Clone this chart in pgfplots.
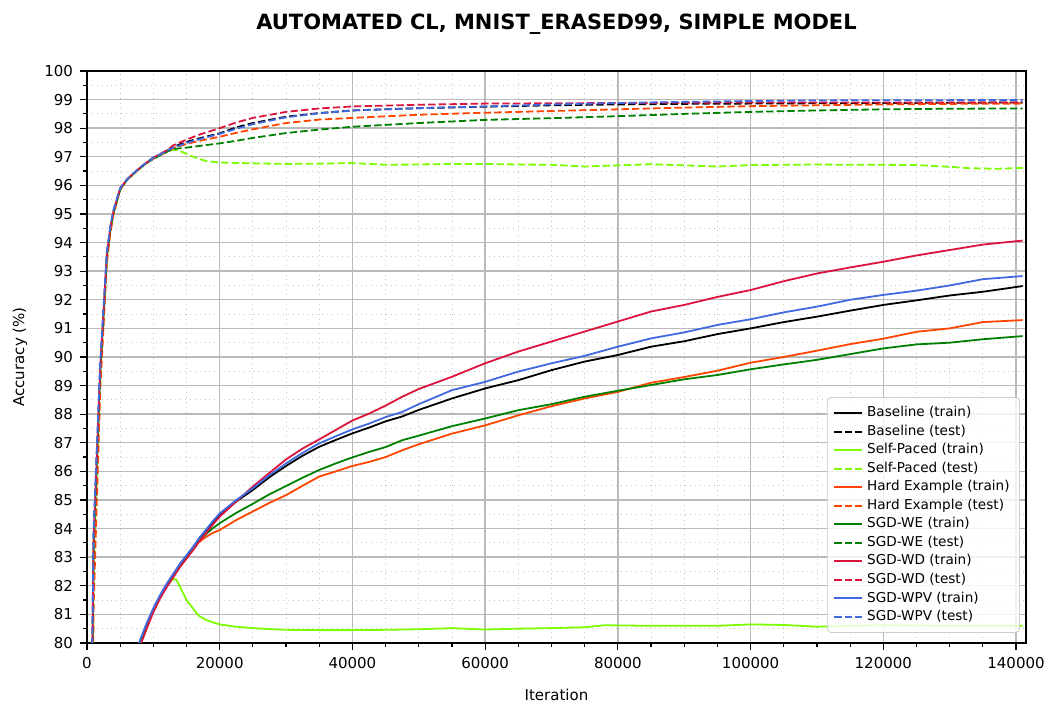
\documentclass[border=0pt]{standalone}
\usepackage{fontspec}
\setmainfont{DejaVu Sans}
\usepackage{pgfplots}
\pgfplotsset{compat=1.18}
\usetikzlibrary{calc}
\definecolor{lawngreen}{RGB}{124,252,0}
\definecolor{orangered}{RGB}{255,69,0}
\definecolor{mplgreen}{RGB}{0,128,0}
\definecolor{crimson}{RGB}{220,20,60}
\definecolor{royalblue}{RGB}{65,105,225}
\tikzset{trainline/.style={solid, line width=0.9pt},
         testline/.style={line width=0.9pt, dash pattern=on 3.7pt off 1.6pt}}
\begin{document}
\begin{tikzpicture}
\begin{axis}[
  scale only axis, width=469.5pt, height=286pt,
  xmin=0, xmax=141500, ymin=80, ymax=100,
  xtick={0,20000,40000,60000,80000,100000,120000,140000}, minor x tick num=3,
  ytick={80,81,...,100}, minor y tick num=1,
  scaled ticks=false,
  grid=both,
  major grid style={black!27, line width=0.7pt},
  minor grid style={black!22, line width=0.45pt, dotted},
  axis line style={black, line width=1.1pt},
  tick style={black, line width=0.6pt},
  major tick length=3.5pt, minor tick length=2pt,
  tick align=outside, tick pos=left,
  tick label style={font=\fontsize{7.5}{9}\selectfont},
  label style={font=\fontsize{7.5}{9}\selectfont},
  xlabel={Iteration}, ylabel={Accuracy (\%)},
  xlabel style={at={(axis description cs:0.5,-0.0997)}, anchor=base},
  ylabel style={at={(axis description cs:-0.0714,0.5)}, anchor=center},
  title={AUTOMATED CL, MNIST\_ERASED99, SIMPLE MODEL},
  every axis title shift=0pt,
  title style={font=\fontsize{10.5}{12}\selectfont\bfseries, at={(axis description cs:0.5,1.0717)}, anchor=base},
  legend style={at={(0.9936,0.0175)}, anchor=south east, font=\fontsize{6.8}{8}\selectfont,
    draw=black!20, fill=white, fill opacity=0.8, text opacity=1, rounded corners=2pt,
    row sep=-1.4pt, inner xsep=3pt, inner ysep=2.5pt},
  legend cell align=left,
  legend image code/.code={\draw[#1] (0pt,0pt) -- (14pt,0pt);},
  /pgf/number format/fixed,
  /pgf/number format/precision=0,
  /pgf/number format/1000 sep={},
  /pgf/number format/assume math mode=true,
]
\coordinate (bl) at (rel axis cs:0,0);
\coordinate (tr) at (rel axis cs:1,1);
% Baseline train
\addplot[black, trainline] table[row sep=\\] {x y\\
6000 78.5\\ 7000 79.3\\ 8000 80.0\\ 9000 80.6\\ 10000 81.15\\ 11000 81.6\\ 12000 82.0\\ 13000 82.35\\ 14000 82.7\\ 15000 83.0\\ 16000 83.3\\
17000 83.68\\ 18000 83.95\\ 19000 84.22\\ 20000 84.48\\ 22500 84.95\\ 25000 85.35\\ 27500 85.8\\ 30000 86.19\\ 32500 86.55\\ 35000 86.86\\ 37500 87.1\\ 40000 87.33\\ 42500 87.53\\ 45000 87.75\\ 47500 87.92\\ 50000 88.15\\ 55000 88.55\\ 60000 88.9\\ 65000 89.19\\ 70000 89.54\\ 75000 89.84\\ 80000 90.07\\ 85000 90.36\\ 90000 90.55\\ 95000 90.8\\ 100000 91.0\\ 105000 91.22\\ 110000 91.41\\ 115000 91.62\\ 120000 91.82\\ 125000 91.98\\ 130000 92.15\\ 135000 92.28\\ 141000 92.48\\};
\addlegendentry{Baseline (train)}
% Baseline test
\addplot[black, testline] table[row sep=\\] {x y\\
0 64\\ 1000 83.8\\ 2000 89.7\\ 3000 93.6\\ 3500 94.5\\ 4000 95.1\\ 5000 95.9\\ 6000 96.2\\ 7000 96.42\\ 8000 96.62\\ 9000 96.8\\ 10000 96.97\\ 11000 97.08\\ 12000 97.2\\
13000 97.35\\ 15000 97.52\\ 17000 97.65\\ 20000 97.82\\ 22500 98.03\\ 25000 98.18\\ 30000 98.4\\ 35000 98.53\\ 40000 98.62\\ 50000 98.7\\ 60000 98.75\\ 70000 98.8\\ 80000 98.83\\ 90000 98.85\\ 100000 98.86\\ 110000 98.87\\ 120000 98.88\\ 130000 98.89\\ 141000 98.9\\};
\addlegendentry{Baseline (test)}
% Self-paced train
\addplot[lawngreen, trainline] table[row sep=\\] {x y\\
6000 78.5\\ 7000 79.3\\ 8000 80.0\\ 9000 80.6\\ 10000 81.15\\ 11000 81.6\\ 12000 82.0\\ 13000 82.24\\ 13500 82.2\\ 14000 81.97\\ 15000 81.5\\ 16000 81.2\\ 16500 81.04\\ 17000 80.93\\ 18000 80.8\\ 19000 80.72\\ 20000 80.65\\ 22000 80.58\\ 25000 80.52\\ 28000 80.48\\ 30000 80.46\\ 35000 80.45\\ 40000 80.45\\ 45000 80.46\\ 50000 80.48\\ 55000 80.52\\ 60000 80.47\\ 65000 80.5\\ 70000 80.52\\ 75000 80.55\\ 78000 80.62\\ 85000 80.6\\ 90000 80.6\\ 95000 80.6\\ 100000 80.65\\ 105000 80.63\\ 110000 80.57\\ 115000 80.6\\ 120000 80.62\\ 130000 80.6\\ 141000 80.6\\};
\addlegendentry{Self-Paced (train)}
% Self-paced test
\addplot[lawngreen, testline] table[row sep=\\] {x y\\
0 60\\ 1000 82.2\\ 2000 89.2\\ 3000 93.4\\ 3500 94.4\\ 4000 95.0\\ 5000 95.85\\ 6000 96.2\\ 7000 96.4\\ 8000 96.6\\ 9000 96.8\\ 10000 96.95\\ 11000 97.07\\ 12000 97.17\\ 13000 97.25\\ 14000 97.2\\ 15000 97.1\\ 16000 97.0\\ 17000 96.92\\ 18000 96.85\\ 20000 96.8\\ 25000 96.77\\ 30000 96.75\\ 35000 96.76\\ 40000 96.78\\ 45000 96.72\\ 50000 96.73\\ 55000 96.75\\ 60000 96.75\\ 65000 96.73\\ 70000 96.72\\ 75000 96.66\\ 80000 96.7\\ 85000 96.74\\ 90000 96.7\\ 95000 96.66\\ 100000 96.71\\ 105000 96.72\\ 110000 96.73\\ 115000 96.72\\ 120000 96.72\\ 125000 96.71\\ 130000 96.65\\ 133000 96.6\\ 137000 96.58\\ 141000 96.61\\};
\addlegendentry{Self-Paced (test)}
% Hard example train
\addplot[orangered, trainline] table[row sep=\\] {x y\\
6000 78.5\\ 7000 79.3\\ 8000 80.0\\ 9000 80.6\\ 10000 81.15\\ 11000 81.6\\ 12000 82.0\\ 13000 82.35\\ 14000 82.7\\ 15000 83.0\\ 16000 83.3\\ 16500 83.45\\
17000 83.55\\ 18000 83.72\\ 19000 83.85\\ 20000 83.95\\ 22500 84.3\\ 25000 84.6\\ 27500 84.9\\ 30000 85.17\\ 32500 85.5\\ 35000 85.82\\ 37500 86.0\\ 40000 86.19\\ 42500 86.33\\ 45000 86.5\\ 47500 86.74\\ 50000 86.95\\ 55000 87.32\\ 60000 87.61\\ 65000 87.96\\ 70000 88.28\\ 75000 88.55\\ 80000 88.78\\ 85000 89.1\\ 90000 89.3\\ 95000 89.52\\ 100000 89.8\\ 105000 90.0\\ 110000 90.22\\ 115000 90.45\\ 120000 90.64\\ 125000 90.88\\ 130000 91.0\\ 135000 91.22\\ 141000 91.29\\};
\addlegendentry{Hard Example (train)}
% Hard example test
\addplot[orangered, testline] table[row sep=\\] {x y\\
0 57\\ 1000 81.3\\ 2000 88.9\\ 3000 93.3\\ 3500 94.3\\ 4000 95.0\\ 5000 95.85\\ 6000 96.18\\ 7000 96.4\\ 8000 96.6\\ 9000 96.78\\ 10000 96.93\\ 11000 97.05\\ 12000 97.17\\
13000 97.3\\ 15000 97.45\\ 17000 97.56\\ 20000 97.7\\ 22500 97.84\\ 25000 97.96\\ 30000 98.18\\ 35000 98.3\\ 40000 98.36\\ 50000 98.47\\ 60000 98.54\\ 70000 98.6\\ 80000 98.66\\ 90000 98.72\\ 100000 98.77\\ 110000 98.8\\ 120000 98.83\\ 130000 98.85\\ 141000 98.86\\};
\addlegendentry{Hard Example (test)}
% SGD-WE train
\addplot[mplgreen, trainline] table[row sep=\\] {x y\\
6000 78.5\\ 7000 79.3\\ 8000 80.0\\ 9000 80.6\\ 10000 81.15\\ 11000 81.6\\ 12000 82.0\\ 13000 82.35\\ 14000 82.7\\ 15000 83.0\\ 16000 83.3\\
17000 83.62\\ 18000 83.82\\ 19000 84.02\\ 20000 84.19\\ 22500 84.55\\ 25000 84.87\\ 27500 85.2\\ 30000 85.49\\ 32500 85.78\\ 35000 86.05\\ 37500 86.28\\ 40000 86.49\\ 42500 86.68\\ 45000 86.85\\ 47500 87.09\\ 50000 87.25\\ 55000 87.58\\ 60000 87.85\\ 65000 88.14\\ 70000 88.35\\ 75000 88.61\\ 80000 88.82\\ 85000 89.02\\ 90000 89.22\\ 95000 89.37\\ 100000 89.57\\ 105000 89.74\\ 110000 89.9\\ 115000 90.1\\ 120000 90.3\\ 125000 90.44\\ 130000 90.5\\ 135000 90.62\\ 141000 90.73\\};
\addlegendentry{SGD-WE (train)}
% SGD-WE test
\addplot[mplgreen, testline] table[row sep=\\] {x y\\
0 62\\ 1000 83.3\\ 2000 89.5\\ 3000 93.5\\ 3500 94.45\\ 4000 95.05\\ 5000 95.85\\ 6000 96.18\\ 7000 96.4\\ 8000 96.6\\ 9000 96.78\\ 10000 96.93\\ 11000 97.05\\ 12000 97.17\\
13000 97.27\\ 15000 97.32\\ 17000 97.38\\ 20000 97.47\\ 22500 97.56\\ 25000 97.66\\ 30000 97.83\\ 35000 97.95\\ 40000 98.05\\ 50000 98.18\\ 60000 98.29\\ 70000 98.35\\ 80000 98.42\\ 90000 98.5\\ 100000 98.57\\ 110000 98.62\\ 120000 98.66\\ 130000 98.68\\ 141000 98.69\\};
\addlegendentry{SGD-WE (test)}
% SGD-WD train
\addplot[crimson, trainline] table[row sep=\\] {x y\\
6000 78.4\\ 7000 79.2\\ 8000 79.9\\ 9000 80.5\\ 10000 81.08\\ 11000 81.55\\ 12000 81.95\\ 13000 82.3\\ 14000 82.65\\ 15000 82.95\\ 16000 83.25\\
17000 83.58\\ 18000 83.86\\ 19000 84.15\\ 20000 84.42\\ 22500 84.95\\ 25000 85.47\\ 27500 85.95\\ 30000 86.42\\ 32500 86.8\\ 35000 87.12\\ 37500 87.45\\ 40000 87.78\\ 42500 88.02\\ 45000 88.3\\ 47500 88.61\\ 50000 88.88\\ 55000 89.31\\ 60000 89.78\\ 65000 90.19\\ 70000 90.54\\ 75000 90.89\\ 80000 91.24\\ 85000 91.59\\ 90000 91.82\\ 95000 92.1\\ 100000 92.34\\ 105000 92.65\\ 110000 92.92\\ 115000 93.13\\ 120000 93.33\\ 125000 93.55\\ 130000 93.74\\ 135000 93.93\\ 141000 94.07\\};
\addlegendentry{SGD-WD (train)}
% SGD-WD test
\addplot[crimson, testline] table[row sep=\\] {x y\\
0 63\\ 1000 83.6\\ 2000 89.6\\ 3000 93.6\\ 3500 94.5\\ 4000 95.1\\ 5000 95.9\\ 6000 96.2\\ 7000 96.42\\ 8000 96.62\\ 9000 96.8\\ 10000 96.97\\ 11000 97.1\\ 12000 97.22\\
13000 97.4\\ 15000 97.6\\ 17000 97.78\\ 20000 98.0\\ 22500 98.2\\ 25000 98.36\\ 30000 98.57\\ 35000 98.69\\ 40000 98.76\\ 50000 98.82\\ 60000 98.86\\ 70000 98.87\\ 80000 98.88\\ 90000 98.89\\ 100000 98.9\\ 110000 98.9\\ 120000 98.9\\ 130000 98.9\\ 141000 98.9\\};
\addlegendentry{SGD-WD (test)}
% SGD-WPV train
\addplot[royalblue, trainline] table[row sep=\\] {x y\\
6000 78.6\\ 7000 79.4\\ 8000 80.1\\ 9000 80.7\\ 10000 81.22\\ 11000 81.67\\ 12000 82.07\\ 13000 82.42\\ 14000 82.77\\ 15000 83.07\\ 16000 83.37\\
17000 83.7\\ 18000 83.98\\ 19000 84.27\\ 20000 84.53\\ 22500 85.0\\ 25000 85.41\\ 27500 85.87\\ 30000 86.28\\ 32500 86.65\\ 35000 86.98\\ 37500 87.23\\ 40000 87.47\\ 42500 87.67\\ 45000 87.9\\ 47500 88.08\\ 50000 88.35\\ 55000 88.84\\ 60000 89.13\\ 65000 89.49\\ 70000 89.78\\ 75000 90.04\\ 80000 90.36\\ 85000 90.65\\ 90000 90.86\\ 95000 91.12\\ 100000 91.32\\ 105000 91.56\\ 110000 91.76\\ 115000 92.0\\ 120000 92.17\\ 125000 92.32\\ 130000 92.5\\ 135000 92.72\\ 141000 92.83\\};
\addlegendentry{SGD-WPV (train)}
% SGD-WPV test
\addplot[royalblue, testline] table[row sep=\\] {x y\\
0 64\\ 1000 84.0\\ 2000 89.8\\ 3000 93.7\\ 3500 94.55\\ 4000 95.15\\ 5000 95.9\\ 6000 96.2\\ 7000 96.42\\ 8000 96.62\\ 9000 96.8\\ 10000 96.96\\ 11000 97.08\\ 12000 97.2\\
13000 97.32\\ 15000 97.48\\ 17000 97.62\\ 20000 97.8\\ 22500 97.98\\ 25000 98.14\\ 30000 98.38\\ 35000 98.52\\ 40000 98.62\\ 50000 98.7\\ 60000 98.76\\ 70000 98.83\\ 80000 98.88\\ 90000 98.92\\ 100000 98.95\\ 110000 98.97\\ 120000 98.98\\ 130000 98.98\\ 141000 98.99\\};
\addlegendentry{SGD-WPV (test)}
\end{axis}
\pgfresetboundingbox
\path ($(bl)+(-43.5pt,-31.5pt)$) rectangle ($(tr)+(13pt,35.5pt)$);
\end{tikzpicture}
\end{document}
